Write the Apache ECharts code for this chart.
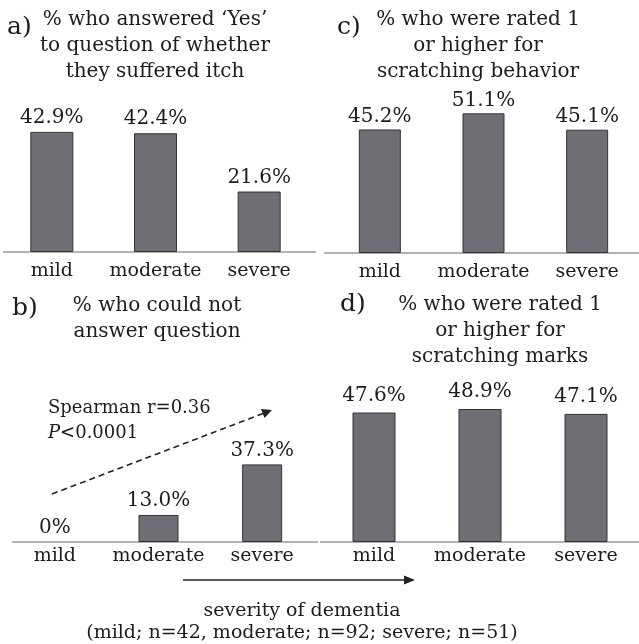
<!DOCTYPE html>
<html>
<head>
<meta charset="utf-8">
<script src="https://cdn.jsdelivr.net/npm/echarts@6/dist/echarts.min.js"></script>
<style>
  html, body { margin: 0; padding: 0; background: #fff; }
  #chart { width: 639px; height: 644px; }
</style>
</head>
<body>
<div id="chart"></div>
<script>
// data
const categories = ['mild', 'moderate', 'severe'];
const itchYes = [42.9, 42.4, 21.6];
const couldNotAnswer = [0, 13.0, 37.3];
const scratchBehavior = [45.2, 51.1, 45.1];
const scratchMarks = [47.6, 48.9, 47.1];

const myChart = echarts.init(document.getElementById('chart'));

const FONT = '"DejaVu Serif", "Liberation Serif", serif';
const INK = '#1c1c1c';

function pct(v) {
  return v === 0 ? '0%' : v.toFixed(1) + '%';
}

function barSeries(idx, values, barWidth, dist) {
  return {
    type: 'bar',
    xAxisIndex: idx,
    yAxisIndex: idx,
    barWidth: barWidth,
    data: values.map(function (v) {
      return v === 0 ? { value: v, itemStyle: { borderWidth: 0 } } : v;
    }),
    itemStyle: { color: '#6e6f74', borderColor: '#333', borderWidth: 1 },
    label: {
      show: true,
      position: 'top',
      distance: dist,
      fontFamily: FONT,
      fontSize: 20,
      color: INK,
      formatter: function (p) { return pct(p.value); }
    },
    silent: true,
    animation: false
  };
}

function catAxis(idx, margin) {
  return {
    type: 'category',
    gridIndex: idx,
    data: categories,
    axisLine: { show: false },
    axisTick: { show: false },
    axisLabel: { interval: 0, margin: margin, fontFamily: FONT, fontSize: 19, color: INK }
  };
}

function valAxis(idx, max) {
  return { type: 'value', gridIndex: idx, min: 0, max: max, show: false };
}

function txt(text, x, y, size, align) {
  return {
    type: 'text',
    style: {
      text: text, x: x, y: y,
      textAlign: align || 'center', textVerticalAlign: 'top',
      fontFamily: FONT, fontSize: size, lineHeight: 26, fill: INK
    }
  };
}

function hline(x1, x2, y, color, w) {
  return { type: 'line', shape: { x1: x1, y1: y, x2: x2, y2: y }, style: { stroke: color, lineWidth: w } };
}

const option = {
  backgroundColor: '#fff',
  animation: false,
  grid: [
    { left: -7, top: 112, width: 318, height: 140 },  // a
    { left: 3, top: 438, width: 311, height: 104 },   // b
    { left: 328, top: 89, width: 312, height: 164 },  // c
    { left: 321, top: 406, width: 320, height: 136 }  // d
  ],
  xAxis: [catAxis(0, 10), catAxis(1, 5), catAxis(2, 10), catAxis(3, 5)],
  yAxis: [valAxis(0, 50), valAxis(1, 50), valAxis(2, 60), valAxis(3, 50)],
  series: [
    barSeries(0, itchYes, 43, 4),
    barSeries(1, couldNotAnswer, 40, 4),
    barSeries(2, scratchBehavior, 42, 3),
    barSeries(3, scratchMarks, 43, 7)
  ],
  graphic: [
    // baselines
    hline(3, 316, 252, '#999', 1.5),
    hline(12, 318, 542, '#999', 1.5),
    hline(324, 639, 253, '#999', 1.5),
    hline(320, 639, 542, '#999', 1.5),
    // panel letters
    txt('a)', 7, 14, 25, 'left'),
    txt('b)', 12, 295, 25, 'left'),
    txt('c)', 337, 14, 25, 'left'),
    txt('d)', 340, 291, 25, 'left'),
    // titles
    txt('% who answered \u2018Yes\u2019\nto question of whether\nthey suffered itch', 155, 7, 20),
    txt('% who could not\nanswer question', 157, 293, 20),
    txt('% who were rated 1\nor higher for\nscratching behavior', 478, 7, 20),
    txt('% who were rated 1\nor higher for\nscratching marks', 500, 292, 20),
    // spearman annotation
    {
      type: 'text',
      style: {
        text: 'Spearman r=0.36\n{i|P}<0.0001',
        x: 48, y: 396, textAlign: 'left', textVerticalAlign: 'top',
        fontFamily: FONT, fontSize: 18, lineHeight: 25, fill: INK,
        rich: { i: { fontStyle: 'italic', fontFamily: FONT, fontSize: 18, fill: INK } }
      }
    },
    {
      type: 'line',
      shape: { x1: 52, y1: 494, x2: 263, y2: 413.5 },
      style: { stroke: '#222', lineWidth: 1.6, lineDash: [6, 4] }
    },
    {
      type: 'polygon',
      shape: { points: [[272, 410], [264.5, 418], [261, 409]] },
      style: { fill: '#222' }
    },
    // bottom axis arrow
    hline(183, 406, 580, '#222', 1.3),
    {
      type: 'polygon',
      shape: { points: [[415, 580], [404, 575.5], [404, 584.5]] },
      style: { fill: '#222' }
    },
    txt('severity of dementia', 302, 598, 19),
    txt('(mild; n=42, moderate; n=92; severe; n=51)', 302, 620, 19)
  ]
};

myChart.setOption(option);
</script>
</body>
</html>
